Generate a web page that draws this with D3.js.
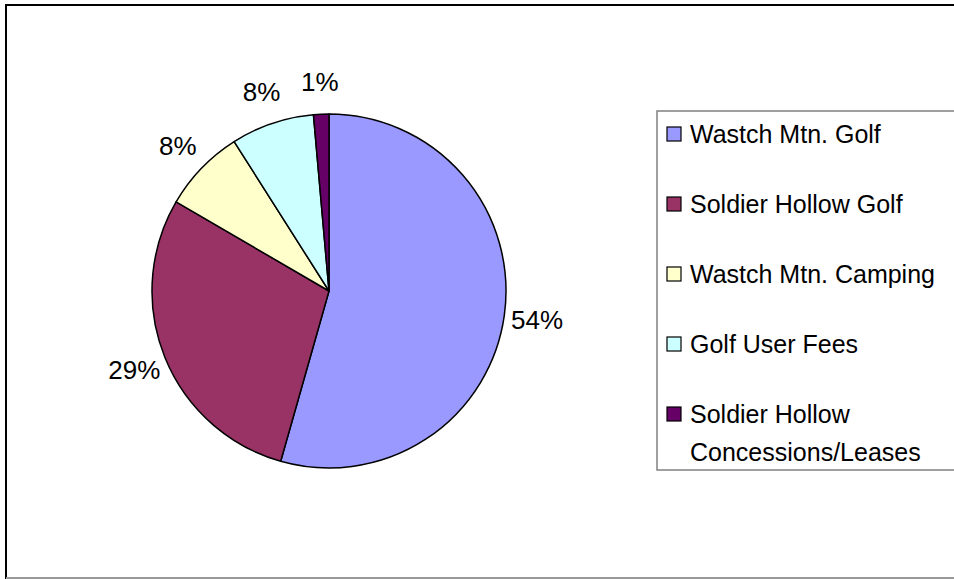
<!DOCTYPE html>
<html><head><meta charset="utf-8">
<script src="https://cdn.jsdelivr.net/npm/d3@7"></script>
<style>body{margin:0;background:#fff}svg{display:block}text{font-family:"Liberation Sans",Arial,sans-serif;fill:#000}</style>
</head><body>
<svg id="c" width="954" height="579"></svg>
<script>
const categories = ["Wastch Mtn. Golf","Soldier Hollow Golf","Wastch Mtn. Camping","Golf User Fees","Soldier Hollow Concessions/Leases"];
const legendLines = [["Wastch Mtn. Golf"],["Soldier Hollow Golf"],["Wastch Mtn. Camping"],["Golf User Fees"],["Soldier Hollow","Concessions/Leases"]];
const values = [54.4, 29.0, 7.6, 7.6, 1.4];
const colors = ["#9999FF","#993366","#FFFFCC","#CCFFFF","#660066"];

const svg = d3.select("#c");
// outer frame
svg.append("rect").attr("x",6).attr("y",5).attr("width",960).attr("height",573)
  .attr("fill","#fff").attr("stroke","#000").attr("stroke-width",2);
svg.append("line").attr("x1",6).attr("x2",960).attr("y1",578).attr("y2",578).attr("stroke","#999").attr("stroke-width",2);

const cx = 329, cy = 291, r = 177;
const data = categories.map((c,i)=>({c, v: values[i], col: colors[i]}));
const pie = d3.pie().value(d=>d.v).sort(null);
const arcs = pie(data);
const arc = d3.arc().innerRadius(0).outerRadius(r);
const labelArc = d3.arc().innerRadius(r+33).outerRadius(r+33);
const g = svg.append("g").attr("transform",`translate(${cx},${cy})`);
g.selectAll("path").data(arcs).join("path")
  .attr("d",arc).attr("fill",d=>d.data.col).attr("stroke","#000").attr("stroke-width",1.5).attr("stroke-linejoin","round");
const fmt = d3.format(".0f");
g.selectAll("text.lbl").data(arcs).join("text").attr("class","lbl")
  .attr("transform",d=>`translate(${labelArc.centroid(d)})`)
  .attr("text-anchor","middle").attr("dy","0.36em")
  .style("font-size","26px")
  .text(d=>fmt(d.data.v)+"%");

// legend
const lg = svg.append("g");
lg.append("rect").attr("x",657).attr("y",111).attr("width",310).attr("height",359)
  .attr("fill","#fff").attr("stroke","#808080").attr("stroke-width",1.5);
const ys = [134,204,274,344,414];
legendLines.forEach((lines,i)=>{
  lg.append("rect").attr("x",667).attr("y",ys[i]-7).attr("width",14).attr("height",14)
    .attr("fill",colors[i]).attr("stroke","#000").attr("stroke-width",1.2);
  const t = lg.append("text").attr("x",690).attr("y",ys[i]).style("font-size","25px");
  lines.forEach((ln,j)=>t.append("tspan").attr("x",690).attr("dy", j===0?"0.36em":"1.52em").text(ln));
});
</script>
</body></html>
